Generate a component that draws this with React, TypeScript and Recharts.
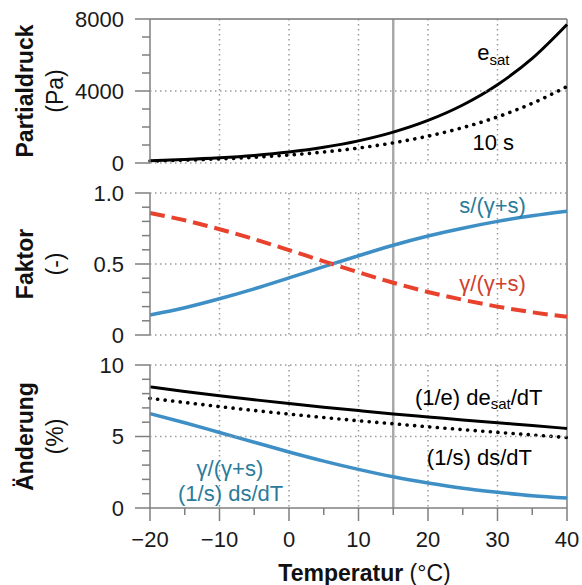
import React from 'react'
import { LineChart, Line, XAxis, YAxis, CartesianGrid, ReferenceDot } from 'recharts'

// Temperatur (°C)
const temps = [-20, -15, -10, -5, 0, 5, 10, 15, 20, 25, 30, 35, 40]

// panel 1: Partialdruck (Pa)
const eSat = [128, 193, 288, 422, 611, 873, 1231, 1716, 2365, 3223, 4349, 5811, 7694]
const tenS = [108, 157, 225, 318, 444, 611, 832, 1120, 1491, 1964, 2563, 3315, 4250]

// panel 2: Faktor (-)
const sShare = [0.141, 0.192, 0.255, 0.325, 0.402, 0.481, 0.558, 0.632, 0.697, 0.752, 0.8, 0.84, 0.872]
const gammaShare = [0.859, 0.808, 0.745, 0.675, 0.598, 0.519, 0.442, 0.368, 0.303, 0.248, 0.2, 0.16, 0.128]

// panel 3: Änderung (%)
const relEsat = [8.47, 8.15, 7.85, 7.57, 7.3, 7.05, 6.81, 6.58, 6.37, 6.16, 5.96, 5.77, 5.56]
const relS = [7.67, 7.38, 7.09, 6.82, 6.57, 6.33, 6.1, 5.89, 5.68, 5.48, 5.29, 5.11, 4.93]
const relSWeighted = [6.6, 5.96, 5.28, 4.6, 3.92, 3.28, 2.7, 2.18, 1.75, 1.38, 1.1, 0.86, 0.7]

const xTicks = [-20, -15, -10, -5, 0, 5, 10, 15, 20, 25, 30, 35, 40]
const xMajor = [-20, -10, 0, 10, 20, 30, 40]
const xGrid = [-10, 0, 10, 20, 30]

const pressureTicks = [0, 1000, 2000, 3000, 4000, 5000, 6000, 7000, 8000]
const pressureMajor = ['0', '4000', '8000']
const pressureRows = [0, 4000]
const factorTicks = [0, 0.1, 0.2, 0.3, 0.4, 0.5, 0.6, 0.7, 0.8, 0.9, 1]
const factorMajor = ['0', '0.5', '1.0']
const factorRows = [0, 0.5, 1]
const changeTicks = [0, 1, 2, 3, 4, 5, 6, 7, 8, 9, 10]
const changeMajor = ['0', '5', '10']
const changeRows = [5, 10]

const data = temps.map((t, i) => ({
  t,
  eSat: eSat[i],
  tenS: tenS[i],
  sShare: sShare[i],
  gammaShare: gammaShare[i],
  relEsat: relEsat[i],
  relS: relS[i],
  relSWeighted: relSWeighted[i],
}))

const W = 582
const H = 585
const LEFT = 150
const RIGHT = 15
const PLOT_W = W - LEFT - RIGHT
const FONT = '"Liberation Sans", Arial, Helvetica, sans-serif'
const FS = 22
const AXIS = '#7f7f7f'
const GRID = '#9a9a9a'
const DOTS = '1.5 3.5'
const BLUE = '#3d8fc6'
const BLUE_TEXT = '#2b7b99'
const RED = '#e8412c'
const RED_TEXT = '#d2402b'

// plot bands (top, bottom) of the three panels
const bands = [
  { top: 19, bottom: 163 },
  { top: 193, bottom: 335 },
  { top: 365, bottom: 508 },
]

function fmtY(v: number, majors: string[]) {
  const s = v === 1 && majors[2] === '1.0' ? '1.0' : String(v)
  return majors.includes(s) ? s : null
}

const has = (list: number[] | undefined, v: number) => (list || []).some((d) => Math.abs(d - v) < 1e-9)

// y tick, with a dotted grid row across the plot where asked
function YTick(props: any) {
  const { x, y, payload, majors, rows } = props
  const v = Number(payload.value)
  const label = fmtY(v, majors)
  const len = label ? 15 : 8
  return (
    <g>
      {has(rows, v) && (
        <path d={`M${x},${y}H${x + PLOT_W}`} stroke={GRID} strokeWidth={1.5} strokeDasharray={DOTS} fill="none" />
      )}
      <path d={`M${x - len},${y}H${x}`} stroke={AXIS} strokeWidth={1.5} fill="none" />
      {label && (
        <text x={x - 26} y={y} dy="0.36em" textAnchor="end" fontSize={FS} fontFamily={FONT} fill="#1a1a1a">
          {label}
        </text>
      )}
    </g>
  )
}

function XTick(props: any) {
  const { x, y, payload } = props
  const major = xMajor.includes(payload.value)
  const v = payload.value
  return (
    <g>
      <path d={`M${x},${y}V${y + (major ? 13 : 7)}`} stroke={AXIS} strokeWidth={1.5} fill="none" />
      {major && (
        <text x={x} y={y + 39} textAnchor="middle" fontSize={FS} fontFamily={FONT} fill="#1a1a1a">
          {v < 0 ? '\u2212' + Math.abs(v) : String(v)}
        </text>
      )}
    </g>
  )
}

function note(children: React.ReactNode, color: string) {
  return (p: any) => (
    <text x={p.cx} y={p.cy} dy="0.36em" textAnchor="middle" fontSize={FS} fontFamily={FONT} fill={color}>
      {children}
    </text>
  )
}

const layer: React.CSSProperties = { position: 'absolute', left: 0, top: 0 }

export default function App() {
  return (
    <div style={{ position: 'absolute', left: 0, top: 0, width: W, height: H, background: '#fff', fontFamily: FONT }}>
      {/* frame: 15 °C line and right border through all panels */}
      <div style={layer}>
        <LineChart width={W} height={H} data={data} margin={{ top: bands[0].top, right: RIGHT, bottom: H - bands[2].bottom, left: LEFT }}>
          <XAxis dataKey="t" type="number" domain={[-20, 40]} hide />
          <YAxis type="number" domain={[0, 1]} hide />
          <CartesianGrid horizontal={false} verticalValues={[15]} stroke="#a9a9a9" strokeWidth={2.5} />
          <CartesianGrid horizontal={false} verticalValues={[40]} stroke={AXIS} strokeWidth={1.5} />
        </LineChart>
      </div>

      {/* panel 1 */}
      <div style={layer}>
        <LineChart width={W} height={H} data={data} margin={{ top: bands[0].top, right: RIGHT, bottom: H - bands[0].bottom, left: 0 }}>
          <XAxis dataKey="t" type="number" domain={[-20, 40]} hide />
          <YAxis
            type="number"
            domain={[0, 8000]}
            ticks={pressureTicks}
            interval={0}
            width={LEFT}
            tickSize={0}
            tickMargin={0}
            axisLine={{ stroke: AXIS, strokeWidth: 1.5 }}
            tick={(p: any) => <YTick {...p} majors={pressureMajor} rows={pressureRows} />}
          />
          <CartesianGrid horizontal={false} verticalValues={xGrid} stroke={GRID} strokeDasharray={DOTS} strokeWidth={1.5} />
          <Line dataKey="eSat" type="monotone" stroke="#000" strokeWidth={3} dot={false} isAnimationActive={false} />
          <Line
            dataKey="tenS"
            type="monotone"
            stroke="#000"
            strokeWidth={3.6}
            strokeDasharray="0.1 7.5"
            strokeLinecap="round"
            dot={false}
            isAnimationActive={false}
          />
          <ReferenceDot
            x={29.4}
            y={6170}
            r={0}
            ifOverflow="visible"
            shape={note(
              <>
                <tspan>e</tspan>
                <tspan fontSize={15} dy={5}>sat</tspan>
              </>,
              '#000'
            )}
          />
          <ReferenceDot x={29.4} y={1170} r={0} ifOverflow="visible" shape={note('10 s', '#000')} />
        </LineChart>
      </div>

      {/* panel 2 */}
      <div style={layer}>
        <LineChart width={W} height={H} data={data} margin={{ top: bands[1].top, right: RIGHT, bottom: H - bands[1].bottom, left: 0 }}>
          <XAxis dataKey="t" type="number" domain={[-20, 40]} hide />
          <YAxis
            type="number"
            domain={[0, 1]}
            ticks={factorTicks}
            interval={0}
            width={LEFT}
            tickSize={0}
            tickMargin={0}
            axisLine={{ stroke: AXIS, strokeWidth: 1.5 }}
            tick={(p: any) => <YTick {...p} majors={factorMajor} rows={factorRows} />}
          />
          <CartesianGrid horizontal={false} verticalValues={xGrid} stroke={GRID} strokeDasharray={DOTS} strokeWidth={1.5} />
          <Line dataKey="sShare" type="monotone" stroke={BLUE} strokeWidth={3.5} dot={false} isAnimationActive={false} />
          <Line
            dataKey="gammaShare"
            type="monotone"
            stroke={RED}
            strokeWidth={4}
            strokeDasharray="15 7"
            dot={false}
            isAnimationActive={false}
          />
          <ReferenceDot x={29.3} y={0.915} r={0} ifOverflow="visible" shape={note('s/(\u03b3+s)', BLUE_TEXT)} />
          <ReferenceDot x={29.3} y={0.366} r={0} ifOverflow="visible" shape={note('\u03b3/(\u03b3+s)', RED_TEXT)} />
        </LineChart>
      </div>

      {/* panel 3 */}
      <div style={layer}>
        <LineChart width={W} height={H} data={data} margin={{ top: bands[2].top, right: RIGHT, bottom: 0, left: 0 }}>
          <XAxis
            dataKey="t"
            type="number"
            domain={[-20, 40]}
            ticks={xTicks}
            interval={0}
            height={H - bands[2].bottom}
            tickSize={0}
            tickMargin={0}
            axisLine={{ stroke: AXIS, strokeWidth: 1.5 }}
            tick={(p: any) => <XTick {...p} />}
          />
          <YAxis
            type="number"
            domain={[0, 10]}
            ticks={changeTicks}
            interval={0}
            width={LEFT}
            tickSize={0}
            tickMargin={0}
            axisLine={{ stroke: AXIS, strokeWidth: 1.5 }}
            tick={(p: any) => <YTick {...p} majors={changeMajor} rows={changeRows} />}
          />
          <CartesianGrid horizontal={false} verticalValues={xGrid} stroke={GRID} strokeDasharray={DOTS} strokeWidth={1.5} />
          <Line dataKey="relEsat" type="monotone" stroke="#000" strokeWidth={3} dot={false} isAnimationActive={false} />
          <Line
            dataKey="relS"
            type="monotone"
            stroke="#000"
            strokeWidth={3.6}
            strokeDasharray="0.1 7.5"
            strokeLinecap="round"
            dot={false}
            isAnimationActive={false}
          />
          <Line dataKey="relSWeighted" type="monotone" stroke={BLUE} strokeWidth={3.5} dot={false} isAnimationActive={false} />
          <ReferenceDot
            x={27.3}
            y={7.76}
            r={0}
            ifOverflow="visible"
            shape={note(
              <>
                <tspan>(1/e) de</tspan>
                <tspan fontSize={15} dy={4}>sat</tspan>
                <tspan dy={-4}>/dT</tspan>
              </>,
              '#000'
            )}
          />
          <ReferenceDot x={27.4} y={3.57} r={0} ifOverflow="visible" shape={note('(1/s) ds/dT', '#000')} />
          <ReferenceDot x={-8.5} y={2.8} r={0} ifOverflow="visible" shape={note('\u03b3/(\u03b3+s)', BLUE_TEXT)} />
          <ReferenceDot x={-8.4} y={1.05} r={0} ifOverflow="visible" shape={note('(1/s) ds/dT', BLUE_TEXT)} />
        </LineChart>
      </div>

      {/* top border of the first panel and axis titles */}
      <svg width={W} height={H} style={{ ...layer, pointerEvents: 'none' }}>
        <rect x={LEFT} y={bands[0].top - 0.8} width={PLOT_W} height={1.6} fill={AXIS} />
        {[
          ['Partialdruck', '(Pa)'],
          ['Faktor', '(-)'],
          ['\u00c4nderung', '(%)'],
        ].map(([title, unit], i) => {
          const cy = (bands[i].top + bands[i].bottom) / 2
          return (
            <g key={title} fontFamily={FONT} fontSize={23} fill="#111">
              <text transform={`translate(25, ${cy}) rotate(-90)`} textAnchor="middle" dy="0.36em" fontWeight="bold">
                {title}
              </text>
              <text transform={`translate(55, ${cy}) rotate(-90)`} textAnchor="middle" dy="0.36em">
                {unit}
              </text>
            </g>
          )
        })}
        <text x={(LEFT + W - RIGHT) / 2 + 6} y={581} textAnchor="middle" fontFamily={FONT} fontSize={23} fill="#111">
          <tspan fontWeight="bold">Temperatur</tspan>
          <tspan> (°C)</tspan>
        </text>
      </svg>
    </div>
  )
}
